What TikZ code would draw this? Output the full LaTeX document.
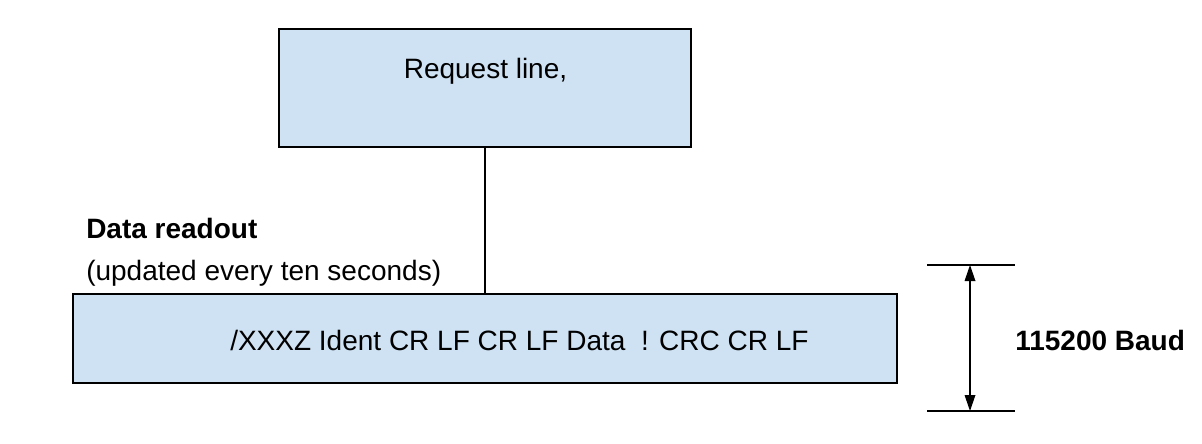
\documentclass[tikz,border=0pt]{standalone}
\usepackage{fontspec}
\setmainfont{Liberation Sans}
\usetikzlibrary{arrows.meta}
\definecolor{boxblue}{RGB}{207,226,244}
\begin{document}
\begin{tikzpicture}[x=0.75pt,y=-0.75pt,
  blockbox/.style={draw=black,fill=boxblue,line width=0.9pt,inner sep=0pt},
  lbl/.style={inner sep=0pt,font=\fontsize{21}{25}\selectfont},
  thin/.style={line width=0.9pt}]
\useasboundingbox (0,0) rectangle (1202,443);
\fill[white] (0,0) rectangle (1202,443);
% boxes
\draw[blockbox] (279,29) rectangle (691,147);
\coordinate (topbot) at (485,147);
\draw[blockbox] (73,294) rectangle (897,383);
\coordinate (bottop) at (485,294);
\draw[thin] (topbot) -- (bottop);
% texts
\node[lbl] (req) at (485.5,71) {Request line,};
\node[lbl,anchor=west] (data) at (230,340) {/XXXZ Ident CR LF CR LF Data\ \ ! CRC CR LF};
\node[lbl,anchor=base west,font=\fontsize{21}{25}\selectfont\bfseries] (dr) at (86,238) {Data readout};
\node[lbl,anchor=base west] (upd) at (86,280) {(updated every ten seconds)};
\node[lbl,anchor=west,font=\fontsize{21}{25}\selectfont\bfseries] (baud) at (1015,340) {115200 Baud};
% dimension
\coordinate (l1a) at (927,265); \coordinate (l1b) at (1015,265);
\coordinate (l2a) at (927,411); \coordinate (l2b) at (1015,411);
\draw[thin] (l1a) -- (l1b);
\draw[thin] (l2a) -- (l2b);
\coordinate (at) at (970,265); \coordinate (ab) at (970,411);
\draw[thin,{Triangle[length=12pt,width=8pt]}-{Triangle[length=12pt,width=8pt]}] (at) -- (ab);
\end{tikzpicture}
\end{document}
